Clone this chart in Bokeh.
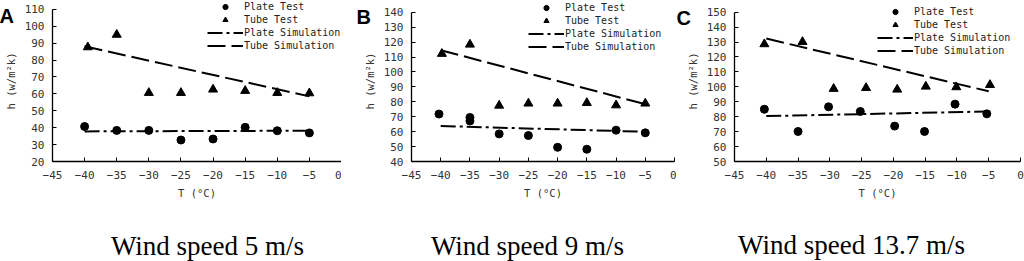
from bokeh.plotting import figure
from bokeh.layouts import row
from bokeh.models import Legend, LegendItem, Label, FixedTicker
from bokeh.embed import file_html
from bokeh.resources import INLINE

# ---------------- data ----------------
x_ticks = [-45, -40, -35, -30, -25, -20, -15, -10, -5, 0]
sim_x = [-40, -5]

# Panel A: wind speed 5 m/s
a_plate_x = [-40, -35, -30, -25, -20, -15, -10, -5]
a_plate_y = [40.7, 38.4, 38.4, 32.7, 33.3, 40.2, 38.2, 36.9]
a_tube_x = [-39.5, -35, -30, -25, -20, -15, -10, -5]
a_tube_y = [87.6, 95.0, 60.6, 60.6, 62.6, 61.8, 60.6, 60.4]
a_sim_plate = [37.8, 38.2]
a_sim_tube = [88.1, 58.5]
a_y_ticks = [20, 30, 40, 50, 60, 70, 80, 90, 100, 110]

# Panel B: wind speed 9 m/s
b_plate_x = [-40.3, -35, -35, -30, -25, -20, -15, -10, -5]
b_plate_y = [71.8, 69.5, 67.2, 58.5, 57.4, 49.5, 48.2, 61.0, 59.2]
b_tube_x = [-39.8, -35, -30, -25, -20, -15, -10, -5]
b_tube_y = [112.2, 118.4, 77.5, 78.9, 78.9, 79.3, 77.7, 78.9]
b_sim_plate = [63.8, 59.9]
b_sim_tube = [114.6, 78.4]
b_y_ticks = [40, 50, 60, 70, 80, 90, 100, 110, 120, 130, 140]

# Panel C: wind speed 13.7 m/s
c_plate_x = [-40.3, -35, -30.2, -25.2, -19.8, -15.1, -10.3, -5.3]
c_plate_y = [85.0, 70.1, 86.6, 83.5, 73.7, 70.1, 88.4, 81.9]
c_tube_x = [-40.3, -34.3, -29.4, -24.3, -19.4, -14.9, -10.1, -4.8]
c_tube_y = [128.6, 130.1, 98.7, 99.3, 98.2, 100.2, 99.8, 101.3]
c_sim_plate = [80.4, 83.5]
c_sim_tube = [132.3, 97.0]
c_y_ticks = [50, 60, 70, 80, 90, 100, 110, 120, 130, 140, 150]

series_names = ["Plate Test", "Tube Test", "Plate Simulation", "Tube Simulation"]
x_label = "T (°C)"
y_label = "h (w/m²k)"

MONO = "DejaVu Sans Mono"


def panel(letter, caption, px, py, tx, ty, sp, st, yticks, y_end,
          width, left, right, frame_h, leg_x, leg_top, cap_x, cap_y,
          letter_x, letter_y):
    p = figure(width=width, height=261, x_range=(-45, 0),
               y_range=(yticks[0], y_end),
               output_backend="svg", toolbar_location=None,
               min_border_left=left, min_border_right=right,
               min_border_top=0, min_border_bottom=261 - frame_h)
    p.outline_line_color = None
    p.xgrid.visible = False
    p.ygrid.visible = False
    p.background_fill_color = "white"
    p.border_fill_color = "white"

    for ax in (p.xaxis[0], p.yaxis[0]):
        ax.axis_line_color = "black"
        ax.axis_line_width = 1.3
        ax.major_tick_in = 4
        ax.major_tick_out = 0
        ax.major_tick_line_color = "black"
        ax.minor_tick_line_color = None
        ax.major_label_text_font = MONO
        ax.major_label_text_font_size = "11px"
        ax.major_label_text_color = "#333333"
        ax.axis_label_text_font = MONO
        ax.axis_label_text_font_size = "10.5px"
        ax.axis_label_text_font_style = "normal"
        ax.axis_label_text_color = "#333333"
    p.xaxis[0].ticker = FixedTicker(ticks=x_ticks)
    p.yaxis[0].ticker = FixedTicker(ticks=yticks)
    p.yaxis[0].bounds = (yticks[0], yticks[-1])
    p.xaxis[0].major_label_standoff = 9
    p.yaxis[0].major_label_standoff = 8
    p.xaxis[0].axis_label = x_label
    p.yaxis[0].axis_label = y_label
    p.xaxis[0].axis_label_standoff = 5
    p.yaxis[0].axis_label_standoff = 5

    r_plate = p.scatter(px, py, marker="circle", size=8, color="black")
    r_tube = p.scatter(tx, ty, marker="triangle", size=9, color="black")
    r_sp = p.line(sim_x, sp, line_dash="15 4 3 4", line_width=2, color="black")
    r_st = p.line(sim_x, st, line_dash="18 6", line_width=2, color="black")

    leg_h = 52
    legend = Legend(items=[
        LegendItem(label=series_names[0], renderers=[r_plate]),
        LegendItem(label=series_names[1], renderers=[r_tube]),
        LegendItem(label=series_names[2], renderers=[r_sp]),
        LegendItem(label=series_names[3], renderers=[r_st]),
    ], location=(leg_x, frame_h - leg_top - leg_h))
    legend.glyph_width = 36
    legend.glyph_height = 13
    legend.label_height = 13
    legend.spacing = 0
    legend.padding = 0
    legend.margin = 0
    legend.label_standoff = 1
    legend.background_fill_alpha = 0
    legend.border_line_alpha = 0
    legend.label_text_font = MONO
    legend.label_text_font_size = "10px"
    legend.label_text_color = "#222222"
    legend.label_text_baseline = "middle"
    p.add_layout(legend)

    # caption and panel letter live in the bottom side panel (not clipped to frame)
    p.add_layout(Label(x=cap_x, y=cap_y, x_units="screen", y_units="screen",
                       text=caption, text_align="center", text_baseline="middle",
                       text_font="Liberation Serif", text_font_size="27px",
                       text_color="black"), "below")
    p.add_layout(Label(x=letter_x, y=letter_y, x_units="screen", y_units="screen",
                       text=letter, text_align="left", text_baseline="alphabetic",
                       text_font="Liberation Sans", text_font_size="20px",
                       text_font_style="bold", text_color="black"), "below")
    return p


pa = panel("A", "Wind speed 5 m/s", a_plate_x, a_plate_y, a_tube_x, a_tube_y,
           a_sim_plate, a_sim_tube, a_y_ticks, 115.2,
           341, 52, 0, 164, 155, 2.5, 155, -14, -53, 238)
pb = panel("B", "Wind speed 9 m/s", b_plate_x, b_plate_y, b_tube_x, b_tube_y,
           b_sim_plate, b_sim_tube, b_y_ticks, 147.9,
           335, 70, 2, 163, 117, 2.5, 116, -14, -55, 237)
pc = panel("C", "Wind speed 13.7 m/s", c_plate_x, c_plate_y, c_tube_x, c_tube_y,
           c_sim_plate, c_sim_tube, c_y_ticks, 157.8,
           348, 58, 4, 161, 143, 5, 117, -13, -58, 236)

layout = row(pa, pb, pc)
open("out.html", "w").write(file_html(layout, INLINE))
